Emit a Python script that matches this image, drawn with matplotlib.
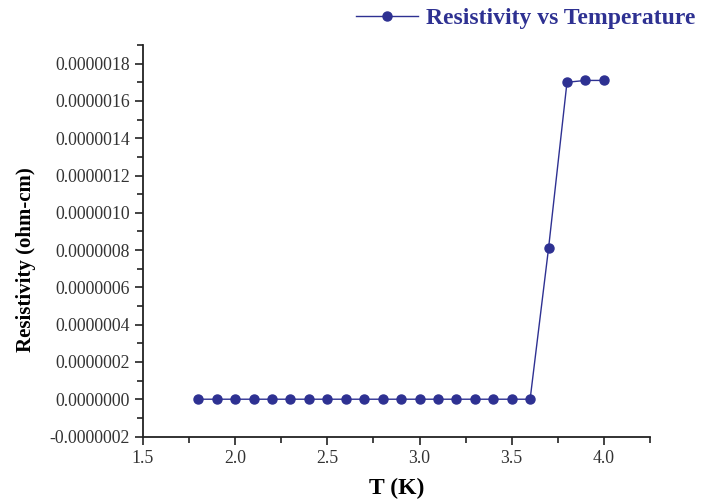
import matplotlib
matplotlib.use('Agg')
import matplotlib.pyplot as plt
from matplotlib.ticker import MultipleLocator, FormatStrFormatter

# Data
temperature = [1.8, 1.9, 2.0, 2.1, 2.2, 2.3, 2.4, 2.5, 2.6, 2.7, 2.8, 2.9,
               3.0, 3.1, 3.2, 3.3, 3.4, 3.5, 3.6, 3.7, 3.8, 3.9, 4.0]
resistivity = [0.0] * 19 + [8.1e-7, 1.70e-6, 1.71e-6, 1.71e-6]

color = '#2e3192'
plt.rcParams['font.family'] = ['Liberation Serif', 'DejaVu Serif']

fig = plt.figure(figsize=(7.08, 5.0), dpi=100)
ax = fig.add_axes([0.202, 0.127, 0.716, 0.783])

line, = ax.plot(temperature, resistivity, '-o', color=color, linewidth=1,
                markersize=6.5, label='Resistivity vs Temperature')

ax.set_xlim(1.5, 4.25)
ax.set_ylim(-2e-7, 1.9e-6)
ax.xaxis.set_major_locator(MultipleLocator(0.5))
ax.xaxis.set_minor_locator(MultipleLocator(0.25))
ax.yaxis.set_major_locator(MultipleLocator(2e-7))
ax.yaxis.set_minor_locator(MultipleLocator(1e-7))
ax.xaxis.set_major_formatter(FormatStrFormatter('%.1f'))
ax.yaxis.set_major_formatter(FormatStrFormatter('%.7f'))

for s in ['top', 'right']:
    ax.spines[s].set_visible(False)
for s in ['left', 'bottom']:
    ax.spines[s].set_linewidth(1.3)
    ax.spines[s].set_color('#222222')

ax.tick_params(which='major', direction='out', length=6, width=1.2,
               labelsize=12.8, colors='#222222', labelcolor='#333333')
ax.tick_params(which='minor', direction='out', length=4, width=1.2, colors='#222222')

ax.set_xlabel('T (K)', fontsize=17, fontweight='bold', labelpad=8)
ax.set_ylabel('Resistivity (ohm-cm)', fontsize=15, fontweight='bold')
ax.yaxis.set_label_coords(-0.211, 0.451)

leg = ax.legend(handles=[line], loc='center right', frameon=False, handlelength=2.6,
                handletextpad=0.35, borderpad=0, borderaxespad=0,
                prop={'family': 'Liberation Serif', 'weight': 'bold', 'size': 17})
leg.set_bbox_to_anchor((0.982, 0.964), transform=fig.transFigure)
for t in leg.get_texts():
    t.set_color(color)

fig.savefig('out.png', dpi=100)
